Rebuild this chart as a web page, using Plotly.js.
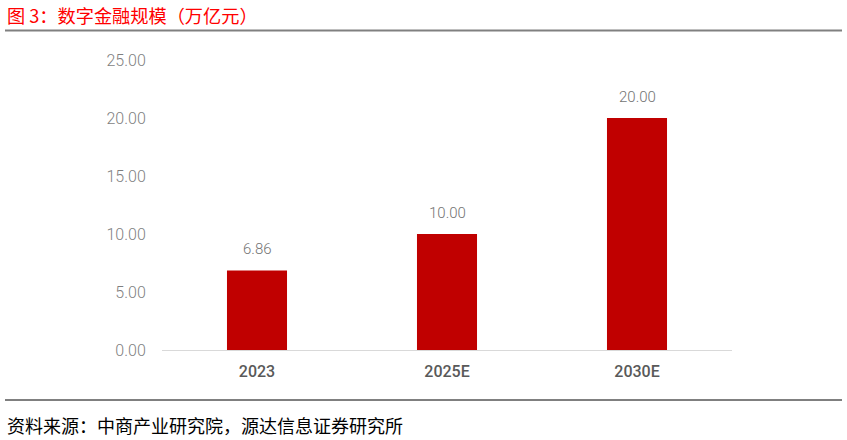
<!DOCTYPE html>
<html><head><meta charset="utf-8">
<script src="https://cdn.plot.ly/plotly-3.0.1.min.js"></script>
<style>html,body{margin:0;padding:0;background:#fff;}</style>
</head><body>
<div id="chart" style="width:847px;height:440px;"></div>
<script>
const categories = ["2023", "2025E", "2030E"];
const values = [6.86, 10.00, 20.00];
const yTicks = [0, 5, 10, 15, 20, 25];
const titleText = "图 3：数字金融规模（万亿元）";
const sourceText = "资料来源：中商产业研究院，源达信息证券研究所";

const L = 162, R = 115, T = 60, B = 90, W = 847, H = 440;
const pw = W - L - R, ph = H - T - B;
const px = x => (x - L) / pw;
const py = y => (H - B - y) / ph;

const trace = {
  type: "bar", x: categories, y: values,
  marker: {color: "#C00000"}, width: 0.316,
  hoverinfo: "none"
};

const annotations = categories.map((c, i) => ({
  x: i, y: values[i], xref: "x", yref: "y",
  text: values[i].toFixed(2), showarrow: false,
  yanchor: "bottom", yshift: 10,
  font: {family: "Roboto, 'Noto Sans CJK SC', sans-serif", size: 15, color: "#737373", weight: 300}
}));
annotations.push({
  xref: "paper", yref: "paper", x: px(5), y: py(15), xanchor: "left", yanchor: "middle",
  text: titleText, showarrow: false,
  font: {family: "'Noto Sans CJK SC', sans-serif", size: 18.2, color: "#FF0000"}
});
annotations.push({
  xref: "paper", yref: "paper", x: px(5), y: py(425), xanchor: "left", yanchor: "middle",
  text: sourceText, showarrow: false,
  font: {family: "'Noto Sans CJK SC', sans-serif", size: 18, color: "#000000"}
});

const layout = {
  width: W, height: H,
  margin: {l: L, r: R, t: T, b: B},
  paper_bgcolor: "#fff", plot_bgcolor: "#fff",
  showlegend: false,
  xaxis: {
    type: "category", range: [-0.5, categories.length - 0.5],
    showgrid: false, zeroline: false,
    showline: true, linecolor: "#D9D9D9", linewidth: 1,
    ticks: "outside", ticklen: 7, tickcolor: "rgba(0,0,0,0)",
    tickfont: {family: "Roboto, sans-serif", size: 16, color: "#595959", weight: 500}
  },
  yaxis: {
    range: [0, 25], tickvals: yTicks, ticktext: yTicks.map(v => v.toFixed(2)),
    showgrid: false, zeroline: false, showline: false,
    ticks: "outside", ticklen: 12, tickcolor: "rgba(0,0,0,0)",
    tickfont: {family: "Roboto, sans-serif", size: 16, color: "#7F7F7F", weight: 300}
  },
  shapes: [
    {type: "line", xref: "paper", yref: "paper", x0: px(5), x1: px(842), y0: py(30.5), y1: py(30.5),
     line: {color: "#808080", width: 2}},
    {type: "line", xref: "paper", yref: "paper", x0: px(5), x1: px(842), y0: py(400), y1: py(400),
     line: {color: "#000000", width: 1}}
  ],
  annotations: annotations
};

Plotly.newPlot("chart", [trace], layout, {displayModeBar: false, staticPlot: true});
</script>
</body></html>
